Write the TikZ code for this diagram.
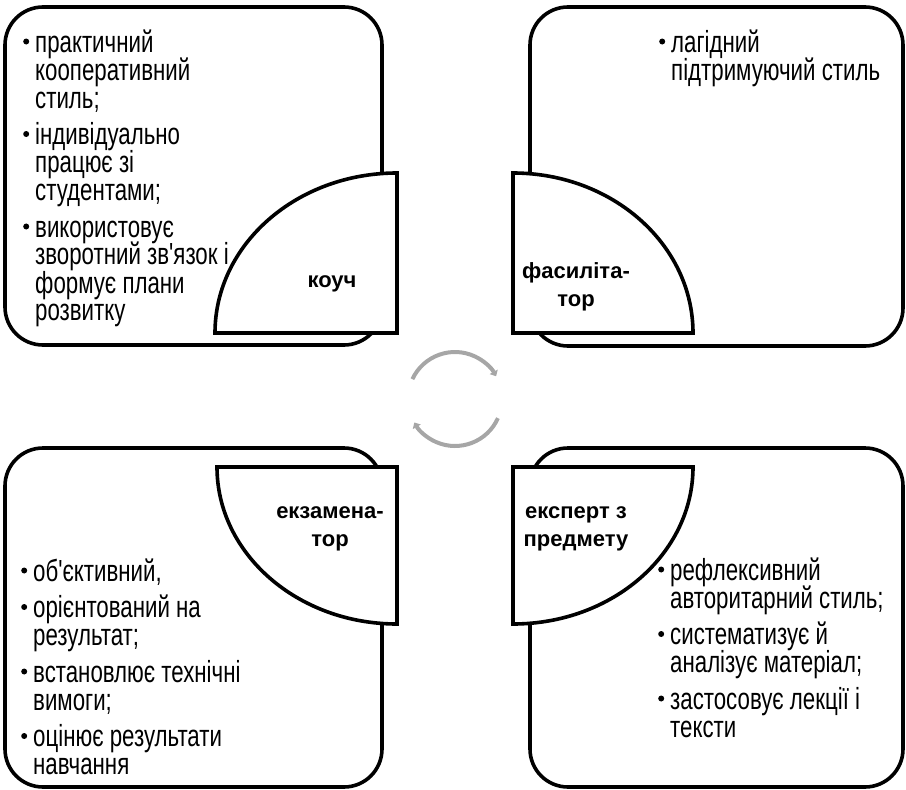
\documentclass[tikz,border=0pt]{standalone}
\usepackage{fontspec}
\setmainfont{Liberation Sans}[FakeStretch=0.73,Ligatures=TeXOff]
\newfontfamily\labelfont{Liberation Sans}
\usetikzlibrary{arrows.meta}
\definecolor{arrowgray}{HTML}{A6A6A6}
\newcommand\bdot{\tikz[baseline={(0pt,-10.5pt)}]\fill (0pt,0pt) circle (3pt);}
\newcommand\bitem[1]{\par\hangindent=12pt\hangafter=1\noindent\makebox[12pt][l]{\bdot}#1}
\newcommand\blk[2]{\begin{minipage}[t]{#1}\fontsize{30.5}{28}\selectfont\rightskip=0pt plus 1fil\relax\lineskiplimit=-\maxdimen\parskip=8.5pt\parindent=0pt #2\end{minipage}}
\newcommand\lbl[1]{{\labelfont\bfseries\fontsize{22}{28}\selectfont\begin{tabular}[t]{@{}c@{}}#1\end{tabular}}}
\begin{document}
\begin{tikzpicture}[x=1pt,y=1pt,
  boxstyle/.style={draw=black,fill=white,line width=3.6pt,rounded corners=38pt},
  piestyle/.style={draw=black,fill=white,line width=3.6pt,line join=miter},
  bodytext/.style={anchor=base west,inner sep=0pt},
  labeltext/.style={anchor=base,inner sep=0pt},
  cyc/.style={draw=arrowgray,line width=4pt,-{Triangle[length=5pt,width=9pt]}}]
\useasboundingbox (0,0) rectangle (906,-790);
% boxes
\draw[boxstyle] (5,-7) rectangle (382,-345);
\draw[boxstyle] (530,-7) rectangle (903,-346);
\draw[boxstyle] (5,-448) rectangle (382,-787);
\draw[boxstyle] (530,-448) rectangle (903,-787);
% quarter pies
\draw[piestyle] (397,-333) -- (215,-333) arc[start angle=180,end angle=90,x radius=182pt,y radius=160pt] -- cycle;
\draw[piestyle] (513,-333) -- (513,-173) arc[start angle=90,end angle=0,x radius=180pt,y radius=160pt] -- cycle;
\draw[piestyle] (397,-467) -- (217,-467) arc[start angle=180,end angle=270,x radius=180pt,y radius=157pt] -- cycle;
\draw[piestyle] (513,-467) -- (693,-467) arc[start angle=0,end angle=-90,x radius=180pt,y radius=157pt] -- cycle;
% cycle arrows
\coordinate (cc) at (455,-399);
\draw[cyc] ([shift={(155:47pt)}]cc) arc[start angle=155,end angle=29,radius=47pt];
\draw[cyc] ([shift={(-24:47pt)}]cc) arc[start angle=-24,end angle=-150,radius=47pt];
% labels
\node[labeltext] (coach) at (332,-287) {\lbl{коуч}};
\node[labeltext] (facil) at (576,-278) {\lbl{фасиліта-\\тор}};
\node[labeltext] (exam) at (330,-518) {\lbl{екзамена-\\тор}};
\node[labeltext] (expert) at (576,-518) {\lbl{експерт з\\предмету}};
% body texts
\node[bodytext] (tltext) at (23,-52) {\blk{340pt}{%
\bitem{практичний\\кооперативний\\стиль;}
\bitem{індивідуально\\працює зі\\студентами;}
\bitem{використовує\\зворотний зв'язок і\\формує плани\\розвитку}}};
\node[bodytext] (trtext) at (659,-52) {\blk{240pt}{%
\bitem{лагідний\\підтримуючий стиль}}};
\node[bodytext] (bltext) at (21,-581) {\blk{340pt}{%
\bitem{об'єктивний,}
\bitem{орієнтований на\\результат;}
\bitem{встановлює технічні\\вимоги;}
\bitem{оцінює результати\\навчання}}};
\node[bodytext] (brtext) at (658,-580) {\blk{240pt}{%
\bitem{рефлексивний\\авторитарний стиль;}
\bitem{систематизує й\\аналізує матеріал;}
\bitem{застосовує лекції і\\тексти}}};
\end{tikzpicture}
\end{document}
